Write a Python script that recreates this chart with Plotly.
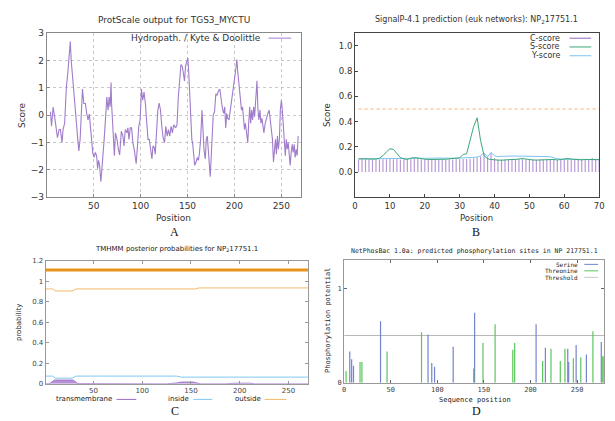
import plotly.graph_objects as go

# ---------------- Panel A : ProtScale hydropathy ----------------
hyd_pos = [4.0, 5.1, 6.8, 7.5, 8.6, 9.6, 10.3, 11.4, 13.2, 14.6, 16.3, 17.4, 19.1, 20.9, 22.6, 23.7, 25.1, 26.1,
           27.9, 29.6, 31.4, 32.8, 34.2, 35.6, 36.7, 38.1, 39.5, 41.2, 42.6, 44.0, 45.4, 46.5, 47.5, 49.0, 50.4,
           51.8, 53.2, 54.2, 55.3, 56.3, 57.7, 58.8, 60.2, 61.2, 63.0, 64.0, 65.4, 66.5, 67.5, 68.6,
           69.0, 70.7, 72.1, 73.2, 74.9, 76.3, 77.7, 79.5, 81.2, 82.3, 83.7, 85.5, 86.5, 87.6, 89.0, 90.4, 91.8,
           93.5, 95.3, 96.7, 98.1, 99.5, 100.9, 102.3, 103.7, 105.1, 106.5, 107.9, 109.3, 110.7, 112.1, 113.2,
           114.6, 115.6, 117.0, 118.4, 119.8, 121.2, 122.6, 124.0, 125.5, 126.9, 128.3, 129.7, 131.1, 132.5,
           133.9, 135.3, 137.4, 138.8, 140.2, 141.6, 143.0, 144.4, 145.8, 146.8, 147.9, 149.3, 150.4, 151.4,
           152.5, 153.5, 154.6, 155.6, 156.7, 157.7, 159.1, 160.5, 161.6, 162.6, 164.0, 165.4, 166.5, 167.5,
           168.9, 170.0, 171.1, 172.1, 173.2, 174.2, 175.3, 176.3, 177.4, 178.8, 180.2, 181.6, 183.0, 184.4,
           185.8, 187.2, 188.6, 189.7, 190.7, 191.8, 192.8, 194.2, 195.6, 197.0, 198.4, 199.8, 201.2, 202.6,
           203.3, 204.4, 205.4, 206.5, 207.5, 208.6, 209.6, 210.7, 211.7, 212.8, 214.2, 215.2, 216.3, 217.3,
           218.4, 219.4, 220.5, 221.5, 223.0, 224.0, 225.1, 226.1, 227.2, 228.2, 229.3, 230.3, 231.4, 232.8,
           234.2, 235.6, 237.0, 238.4, 239.4, 240.5, 241.6, 242.6, 243.7, 244.7, 245.8, 246.8, 247.9, 248.9,
           250.0, 251.0, 252.1, 253.1, 254.2, 255.2, 256.3, 257.3, 258.4, 259.4, 260.5, 261.6, 262.6, 263.7,
           264.7, 265.8, 266.8, 267.9]
hyd_val = [0.13, -0.40, 0.30, 0.07, -0.10, -0.35, -0.52, -0.82, -0.52, -0.52, -1.00, -0.52, -0.29, 1.02, 1.60,
           2.00, 2.70, 2.00, 1.14, 0.31, -0.17, -0.76, -1.30, -0.88, 0.19, 0.96, 0.43, 0.43, 0.07, -0.17, 0.05,
           -0.52, -0.76, -1.36, -1.54, -1.36, -1.48, -1.95, -1.65, -1.83, -2.43, -1.95, -1.48, -0.88, 0.07, 0.67,
           0.19, 0.67, 0.31, 1.20,
           0.49, -0.52, -1.48, -0.64, -0.88, -1.24, -1.45, -0.58, -0.76, -1.12, -0.52, -0.64, -0.46, -0.88,
           -0.46, -0.46, -1.00, -1.30, -1.77, -1.12, -0.40, -0.17, 0.96, 0.55, 0.85, 0.43, -0.40, -0.88, -0.88,
           -1.24, -1.60, -1.12, -1.18, -1.42, -0.76, 0.19, 0.45, 0.19, -0.40, -0.82, -1.00, -0.40, -0.76, -0.52,
           -0.76, -0.40, -0.64, -0.35, -0.46, -0.35, 0.67, 1.50, 1.86, 1.80, 1.38, 1.26, 1.80, 1.98, 2.10, 1.50,
           0.85, -0.05, -0.88, -1.06, -1.48, -1.83, -1.71, -1.54, -1.65, -1.42, -0.88, 0.19, -0.52, -1.24, -1.60,
           -0.88, -0.76, -1.24, -1.71, -2.25, -1.48, -0.52, 0.01, 0.13, 0.79, 0.73, 0.90, 0.96, 0.49, 0.25,
           0.07, 0.31, -0.46, 0.07, -0.11, -0.17, 0.19, 0.49, 0.90, 1.26, 1.62, 2.04,
           1.68, 1.26, 1.08, 0.67, 0.19, 0.31, -0.17, -0.52, -0.29, -0.64, -1.00, -0.29, 0.31, -0.29, 0.19,
           -0.17, 0.31, -0.05, 0.67, 1.26, 0.19, -0.17, 0.19, -0.29, -0.11, -0.46, -0.64, -0.29, -0.05, 0.07,
           0.19, -0.17, -0.52, -0.88, -1.71, -1.12, -0.88, -1.42, -0.76, -1.24, -0.88, 0.19, 0.55, 0.19, -0.52,
           -1.00, -1.48, -0.88, -1.24, -1.00, -1.42, -1.83, -1.36, -1.06, -1.36, -1.06, -1.54, -1.24, -1.48,
           -0.76]

# ---------------- Panel B : SignalP ----------------
sp_pos = list(range(1, 71))
c_score = [0.100, 0.101, 0.102, 0.100, 0.101, 0.100, 0.100, 0.101, 0.102, 0.103, 0.102, 0.101, 0.100, 0.101,
           0.100, 0.102, 0.104, 0.103, 0.101, 0.100, 0.100, 0.101, 0.102, 0.100, 0.099, 0.100, 0.101, 0.100,
           0.101, 0.102, 0.103, 0.104, 0.105, 0.110, 0.118, 0.125, 0.140, 0.120, 0.155, 0.110, 0.100, 0.099,
           0.100, 0.101, 0.100, 0.102, 0.103, 0.104, 0.101, 0.100, 0.099, 0.098, 0.100, 0.101, 0.100, 0.101,
           0.099, 0.098, 0.100, 0.101, 0.104, 0.102, 0.100, 0.099, 0.100, 0.100, 0.101, 0.112, 0.100, 0.099]
s_score = [0.105, 0.105, 0.104, 0.103, 0.104, 0.103, 0.110, 0.130, 0.160, 0.185, 0.180, 0.145, 0.115, 0.105,
           0.100, 0.110, 0.115, 0.112, 0.105, 0.102, 0.100, 0.100, 0.103, 0.100, 0.098, 0.102, 0.105, 0.110,
           0.110, 0.112, 0.140, 0.145, 0.250, 0.360, 0.430, 0.250, 0.130, 0.105, 0.100, 0.100, 0.095, 0.094,
           0.097, 0.100, 0.100, 0.100, 0.105, 0.108, 0.103, 0.098, 0.096, 0.095, 0.096, 0.100, 0.100, 0.102,
           0.100, 0.096, 0.098, 0.102, 0.108, 0.103, 0.100, 0.098, 0.097, 0.100, 0.098, 0.100, 0.097, 0.098]
y_score = [0.105, 0.105, 0.105, 0.105, 0.105, 0.105, 0.105, 0.106, 0.106, 0.107, 0.107, 0.106, 0.105, 0.105,
           0.105, 0.106, 0.107, 0.107, 0.106, 0.106, 0.108, 0.110, 0.111, 0.110, 0.108, 0.108, 0.109, 0.110,
           0.110, 0.111, 0.112, 0.112, 0.113, 0.115, 0.118, 0.130, 0.152, 0.120, 0.155, 0.130, 0.122, 0.125,
           0.127, 0.127, 0.127, 0.127, 0.127, 0.127, 0.127, 0.127, 0.127, 0.127, 0.127, 0.127, 0.126, 0.122,
           0.112, 0.105, 0.102, 0.101, 0.102, 0.101, 0.100, 0.100, 0.101, 0.100, 0.100, 0.101, 0.100, 0.100]
sp_threshold = 0.5

# ---------------- Panel C : TMHMM ----------------
tm_out_pos = [1, 8, 11, 28, 32, 155, 158, 270]
tm_out_val = [0.925, 0.925, 0.905, 0.905, 0.925, 0.925, 0.935, 0.935]
tm_in_pos = [1, 8, 11, 28, 32, 135, 140, 270]
tm_in_val = [0.075, 0.075, 0.055, 0.055, 0.075, 0.075, 0.065, 0.065]
tm_mem_pos = [1, 5, 10, 29, 34, 125, 135, 140, 152, 160, 185, 195, 210, 216, 270]
tm_mem_val = [0, 0.002, 0.037, 0.037, 0.002, 0, 0.008, 0.017, 0.017, 0, 0, 0.006, 0.006, 0, 0]
tm_topo_pos = [1, 270]
tm_topo_val = [1.11, 1.11]

# ---------------- Panel D : NetPhosBac ----------------
ser_pos = [6, 8, 10, 39, 90, 94, 97, 117, 140, 206, 216, 240, 241, 249, 260, 276]
ser_val = [0.33, 0.25, 0.18, 0.65, 0.51, 0.21, 0.17, 0.38, 0.74, 0.62, 0.37, 0.36, 0.22, 0.40, 0.30, 0.43]
thr_pos = [2, 17, 19, 46, 83, 139, 149, 162, 181, 183, 213, 222, 232, 237, 246, 254, 267, 277, 278]
thr_val = [0.125, 0.22, 0.22, 0.33, 0.535, 0.15, 0.42, 0.62, 0.35, 0.42, 0.23, 0.36, 0.23, 0.36, 0.26, 0.27,
           0.545, 0.28, 0.28]
np_threshold = 0.5

W, H = 615, 421


def fx(p):
    return p / W


def fy(p):
    return 1 - p / H


def impulses(xs, ys):
    ox, oy = [], []
    for a, b in zip(xs, ys):
        ox += [a, a, None]
        oy += [0, b, None]
    return ox, oy


fig = go.Figure()

# A
fig.add_trace(go.Scatter(x=hyd_pos, y=hyd_val, mode='lines', line=dict(color='#a07ccb', width=1.1),
                         xaxis='x', yaxis='y', showlegend=False, hoverinfo='skip'))

# B
cx, cy = impulses(sp_pos, c_score)
fig.add_trace(go.Scatter(x=cx, y=cy, mode='lines', line=dict(color='#b89ad6', width=1.2),
                         xaxis='x2', yaxis='y2', showlegend=False, hoverinfo='skip'))
fig.add_trace(go.Scatter(x=[sp_pos[0], sp_pos[-1]], y=[sp_threshold, sp_threshold], mode='lines',
                         line=dict(color='#f5b070', width=1, dash='dot'),
                         xaxis='x2', yaxis='y2', showlegend=False, hoverinfo='skip'))
fig.add_trace(go.Scatter(x=sp_pos, y=y_score, mode='lines', line=dict(color='#7cc4ee', width=1),
                         xaxis='x2', yaxis='y2', showlegend=False, hoverinfo='skip'))
fig.add_trace(go.Scatter(x=sp_pos, y=s_score, mode='lines', line=dict(color='#3aa878', width=1),
                         xaxis='x2', yaxis='y2', showlegend=False, hoverinfo='skip'))

# C
fig.add_trace(go.Scatter(x=tm_mem_pos, y=tm_mem_val, mode='lines', fill='tozeroy',
                         fillcolor='rgba(150,100,195,0.7)', line=dict(color='#9a6cc6', width=0.8),
                         xaxis='x3', yaxis='y3', showlegend=False, hoverinfo='skip'))
fig.add_trace(go.Scatter(x=tm_in_pos, y=tm_in_val, mode='lines', line=dict(color='#80c8f0', width=1),
                         xaxis='x3', yaxis='y3', showlegend=False, hoverinfo='skip'))
fig.add_trace(go.Scatter(x=tm_out_pos, y=tm_out_val, mode='lines', line=dict(color='#f2b868', width=1),
                         xaxis='x3', yaxis='y3', showlegend=False, hoverinfo='skip'))
fig.add_trace(go.Scatter(x=tm_topo_pos, y=tm_topo_val, mode='lines', line=dict(color='#e8921c', width=3),
                         xaxis='x3', yaxis='y3', showlegend=False, hoverinfo='skip'))

# D
fig.add_trace(go.Scatter(x=[0, 279], y=[np_threshold, np_threshold], mode='lines',
                         line=dict(color='#b8b8b8', width=1.2),
                         xaxis='x4', yaxis='y4', showlegend=False, hoverinfo='skip'))
sx, sy = impulses(ser_pos, ser_val)
fig.add_trace(go.Scatter(x=sx, y=sy, mode='lines', line=dict(color='#7384cc', width=1.2),
                         xaxis='x4', yaxis='y4', showlegend=False, hoverinfo='skip'))
tx, ty = impulses(thr_pos, thr_val)
fig.add_trace(go.Scatter(x=tx, y=ty, mode='lines', line=dict(color='#5cc45c', width=1.2),
                         xaxis='x4', yaxis='y4', showlegend=False, hoverinfo='skip'))

SANS = 'DejaVu Sans'
MONO = 'DejaVu Sans Mono'
SERIF = 'Liberation Serif'

axA = dict(showline=True, mirror=True, linecolor='#888888', linewidth=1, ticks='inside', ticklen=3,
           tickcolor='#888888', showgrid=True, gridcolor='#c8c8c8', griddash='dot', gridwidth=1,
           zeroline=False, tickfont=dict(family=SANS, size=9, color='#333333'))
axB = dict(showline=True, mirror=True, linecolor='#444444', linewidth=1, ticks='inside', ticklen=3,
           tickcolor='#444444', showgrid=False, zeroline=False,
           tickfont=dict(family=SANS, size=8.5, color='#333333'))
axC = dict(showline=True, mirror='ticks', linecolor='#999999', linewidth=1, ticks='inside', ticklen=3,
           tickcolor='#999999', showgrid=False, zeroline=False,
           tickfont=dict(family=SANS, size=7, color='#444444'))
axD = dict(showline=True, mirror='ticks', linecolor='#999999', linewidth=1, ticks='inside', ticklen=3,
           tickcolor='#666666', showgrid=False, zeroline=False,
           tickfont=dict(family=MONO, size=7, color='#444444'))

fig.update_layout(
    width=W, height=421, autosize=False,
    margin=dict(l=0, r=0, t=0, b=0),
    paper_bgcolor='white', plot_bgcolor='white',
    xaxis=dict(axA, domain=[fx(44.3), fx(302)], anchor='y', range=[0, 271],
               tickvals=[50, 100, 150, 200, 250]),
    yaxis=dict(axA, domain=[fy(197), fy(29)], anchor='x', range=[-3, 3], dtick=1),
    xaxis2=dict(axB, domain=[fx(356.7), fx(604)], anchor='y2', range=[0, 70], dtick=10),
    yaxis2=dict(axB, domain=[fy(197), fy(29)], anchor='x2', range=[-0.2, 1.1],
                tickvals=[0, 0.2, 0.4, 0.6, 0.8, 1.0], tickformat='.1f'),
    xaxis3=dict(axC, domain=[fx(43.3), fx(309)], anchor='y3', range=[1, 270],
                tickvals=[50, 100, 150, 200, 250]),
    yaxis3=dict(axC, domain=[fy(388), fy(262)], anchor='x3', range=[0, 1.2],
                tickvals=[0, 0.2, 0.4, 0.6, 0.8, 1.0, 1.2],
                ticktext=['0', '0.2', '0.4', '0.6', '0.8', '1', '1.2']),
    xaxis4=dict(axD, domain=[fx(345.7), fx(609)], anchor='y4', range=[0, 279],
                tickvals=[0, 50, 100, 150, 200, 250]),
    yaxis4=dict(axD, domain=[fy(387), fy(261)], anchor='x4', range=[0, 1.3], tickvals=[0, 1]),
)

ann = []
shapes = []


def text(x, y, s, size, family=SANS, color='#333333', xanchor='center', angle=0):
    ann.append(dict(x=fx(x), y=fy(y), xref='paper', yref='paper', text=s, showarrow=False,
                    xanchor=xanchor, yanchor='middle', textangle=angle,
                    font=dict(family=family, size=size, color=color)))


def hline(x0, x1, y, color, width=1):
    shapes.append(dict(type='line', xref='paper', yref='paper', x0=fx(x0), x1=fx(x1), y0=fy(y), y1=fy(y),
                       line=dict(color=color, width=width)))


# Titles
text(173, 15, 'ProtScale output for TGS3_MYCTU', 9)
text(480, 15, 'SignalP-4.1 prediction (euk networks): NP<sub>2</sub>17751.1', 8)
text(176, 250, 'TMHMM posterior probabilities for NP<sub>2</sub>17751.1', 7, color='#222222')
text(478, 252, 'NetPhosBac 1.0a: predicted phosphorylation sites in NP 217751.1', 6.5, family=MONO,
     color='#222222')

# Axis titles
text(20, 113, 'Score', 9, angle=-90)
text(173, 218, 'Position', 9)
text(329, 113, 'Score', 8.5, angle=-90)
text(480, 218, 'Position', 8.5)
text(17, 325, 'probability', 7, angle=-90, color='#222222')
text(330, 323, 'Phosphorylation potential', 7, family=MONO, angle=-90, color='#222222')
text(478, 405, 'Sequence position', 7, family=MONO, color='#222222')

# Panel letters
text(174, 233, 'A', 12, family=SERIF, color='#111111')
text(479, 233, 'B', 12, family=SERIF, color='#111111')
text(174, 416, 'C', 12, family=SERIF, color='#111111')
text(480, 416, 'D', 12, family=SERIF, color='#111111')

# Legend A
text(263, 34, 'Hydropath. / Kyte &amp; Doolittle', 9, xanchor='right')
hline(269, 292, 34, '#c4a8e0', 1.5)

# Legend B
for lab, col, yy in [('C-score', '#9467bd', 34), ('S-score', '#3aa878', 43), ('Y-score', '#7cc4ee', 52)]:
    text(566, yy, lab, 8, xanchor='right')
    hline(574, 596, yy, col, 1)

# Legend C
for lab, col, xr, x0, x1 in [('transmembrane', '#9a6cc6', 112, 115, 135), ('inside', '#80c8f0', 190, 193, 212),
                             ('outside', '#f2b868', 263, 265, 287)]:
    text(xr, 404, lab, 7, xanchor='right', color='#222222')
    hline(x0, x1, 404, col, 1)

# Legend D
for lab, col, yy in [('Serine', '#7384cc', 265.7), ('Threonine', '#5cc45c', 272.3), ('Threshold', '#c8c8c8', 279)]:
    text(585, yy, lab, 6, family=MONO, xanchor='right', color='#222222')
    hline(589, 603, yy, col, 1)

fig.update_layout(annotations=ann, shapes=shapes)
fig.write_html('out.html', config={'displayModeBar': False},
               post_script="document.body.style.margin='0';document.body.style.overflow='hidden';")
